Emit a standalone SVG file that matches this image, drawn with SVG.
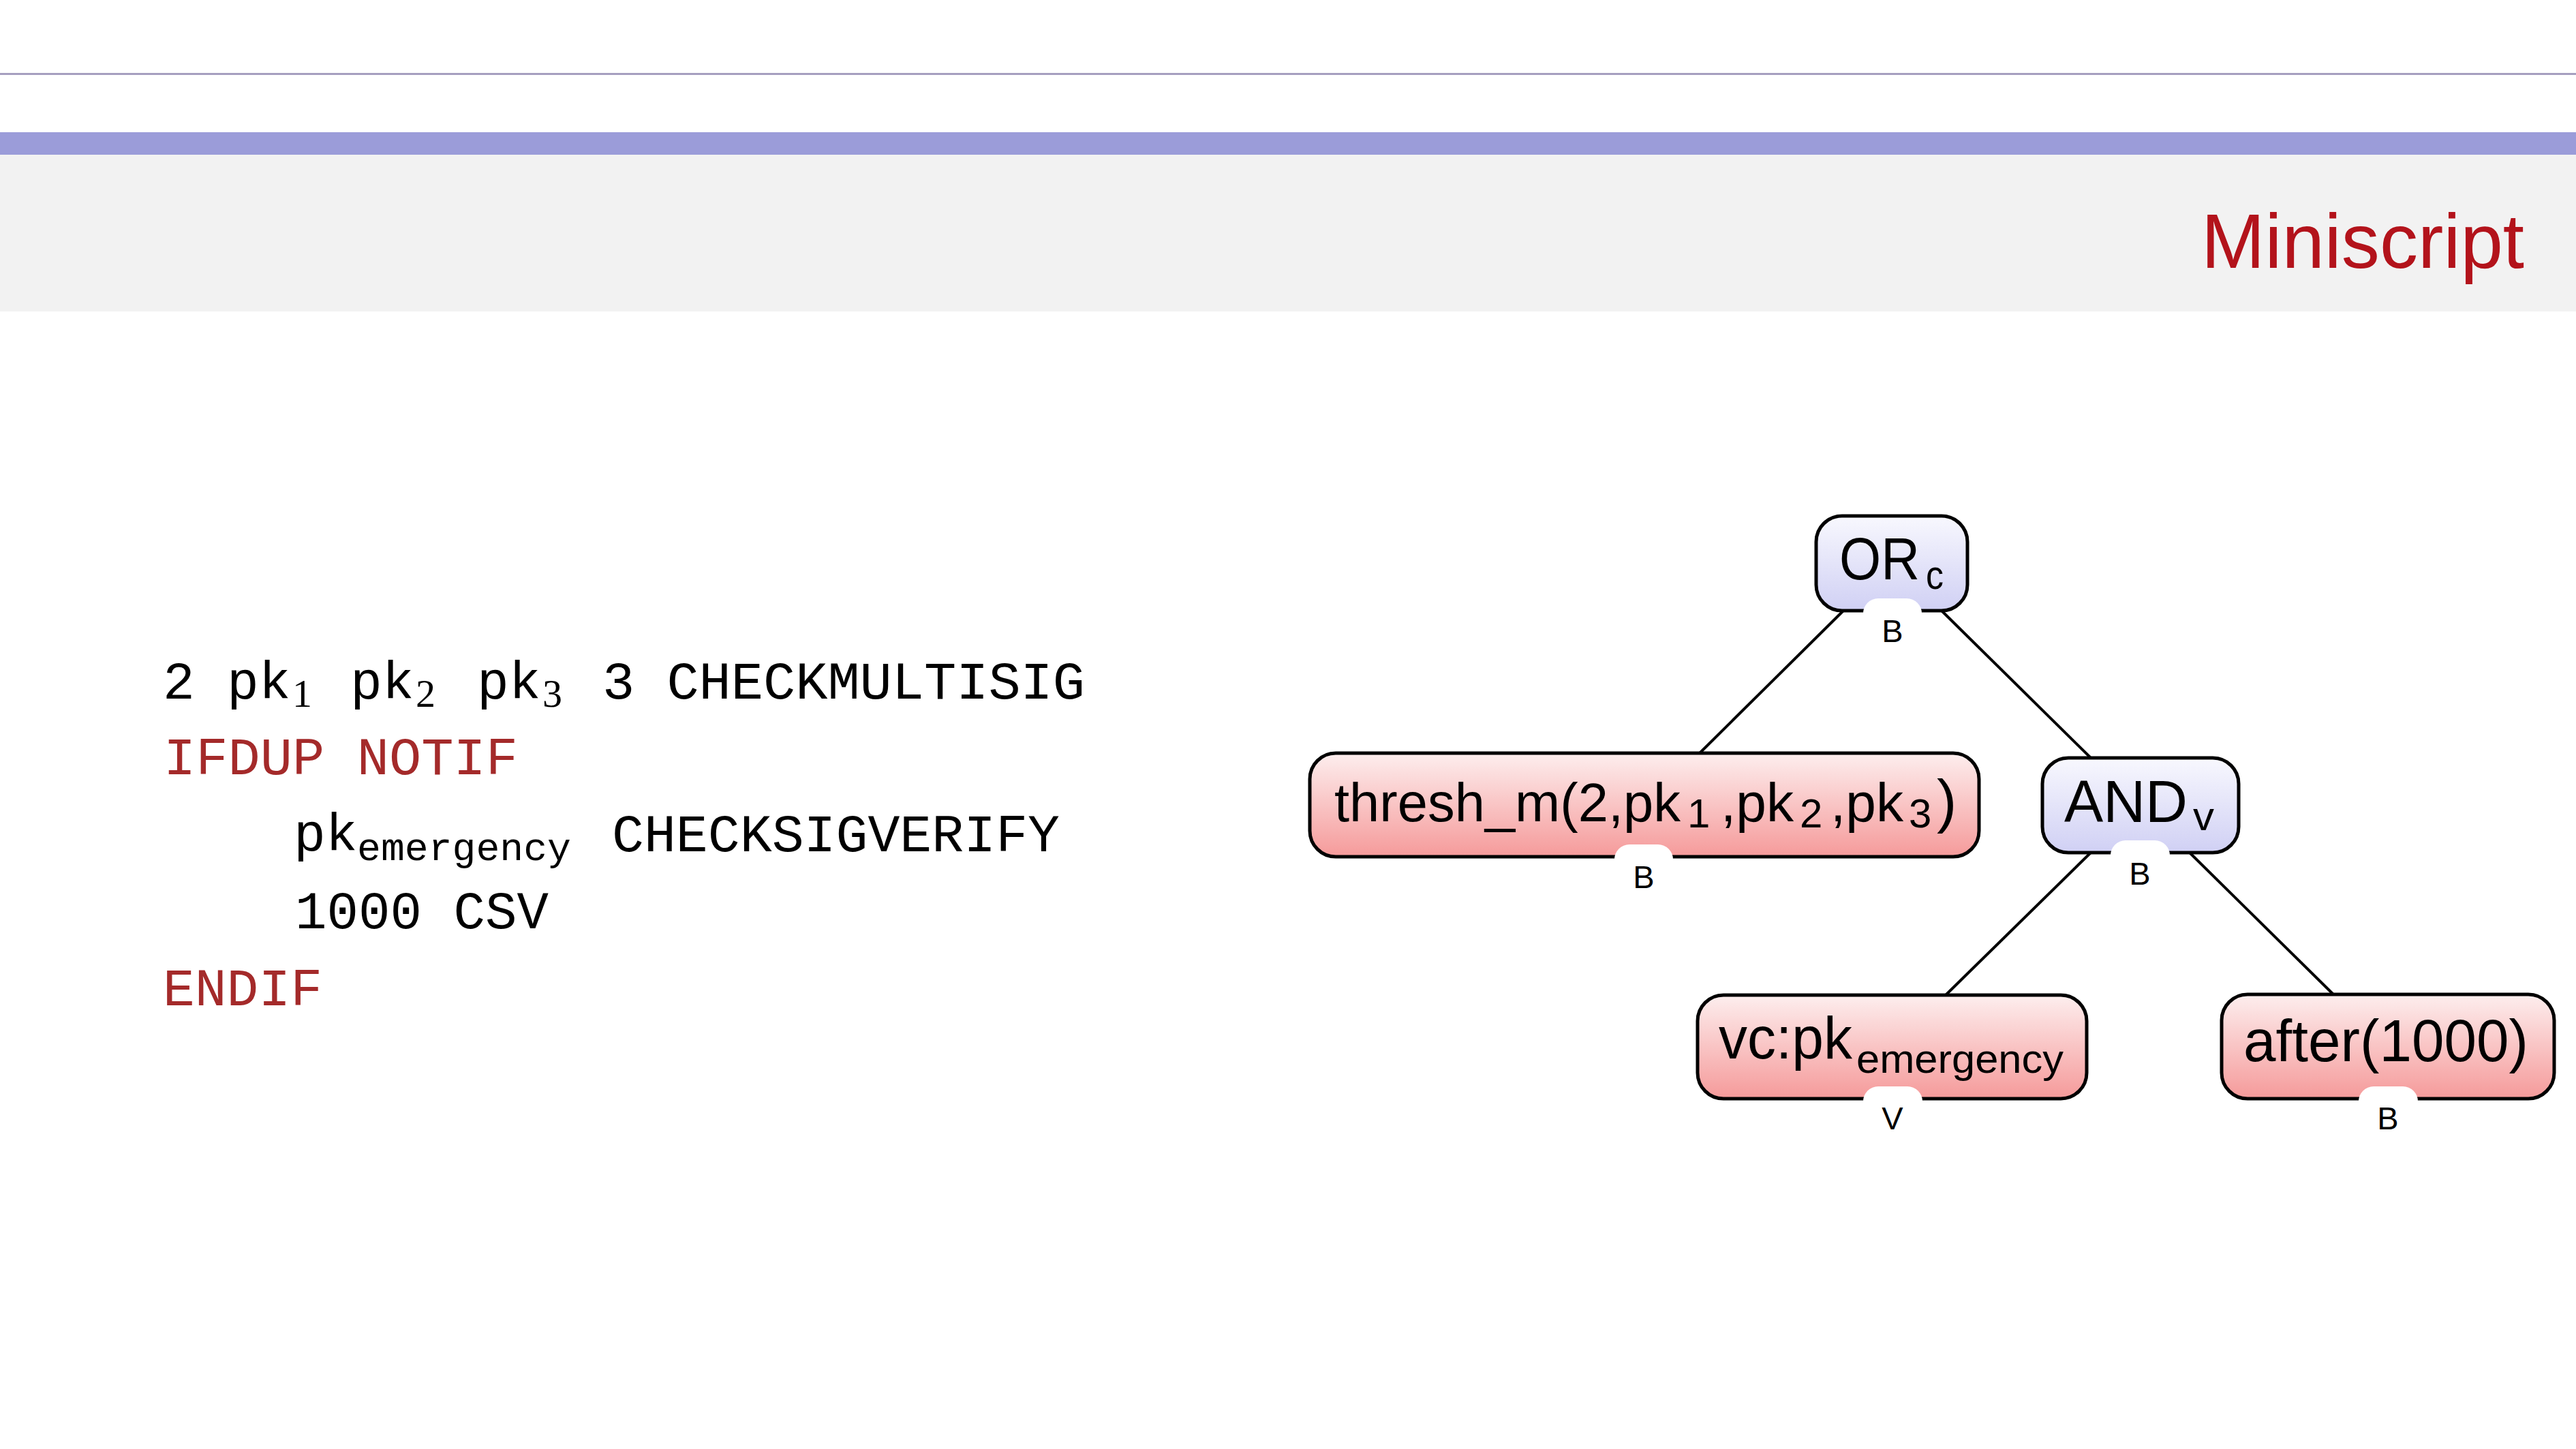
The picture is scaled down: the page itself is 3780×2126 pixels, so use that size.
<svg xmlns="http://www.w3.org/2000/svg" width="3780" height="2126" viewBox="0 0 3780 2126">
<defs>
<linearGradient id="gBlue" x1="0" y1="0" x2="0" y2="1">
<stop offset="0" stop-color="#f8f8fe"/>
<stop offset="1" stop-color="#d0d0f4"/>
</linearGradient>
<linearGradient id="gRed" x1="0" y1="0" x2="0" y2="1">
<stop offset="0" stop-color="#fdeeee"/>
<stop offset="1" stop-color="#f59a9a"/>
</linearGradient>
<style>
.node{stroke:#000;stroke-width:5}
.blue{fill:url(#gBlue)}
.red{fill:url(#gRed)}
.lbl{font-family:"Liberation Sans",Arial,sans-serif;font-size:88px;fill:#000}
.lbl80{font-family:"Liberation Sans",Arial,sans-serif;font-size:80px;fill:#000}
.sub{font-family:"Liberation Sans",Arial,sans-serif;font-size:60px;fill:#000}
.typ{font-family:"Liberation Sans",Arial,sans-serif;font-size:47px;fill:#000;text-anchor:middle}
.notch{fill:#fff}
.edge{stroke:#000;stroke-width:4;fill:none}
.code{font-family:"Liberation Mono","Courier New",monospace;font-size:78px;fill:#000}
.kw{fill:#a42a2a}
.csub{font-family:"Liberation Serif","Times New Roman",serif;font-size:58px;fill:#000}
.csubt{font-family:"Liberation Mono","Courier New",monospace;font-size:58px;fill:#000}
</style>
</defs>
<rect x="0" y="0" width="3780" height="2126" fill="#fff"/>
<g id="header">
<rect x="0" y="107" width="3780" height="3" fill="#a69fbf"/>
<rect x="0" y="194" width="3780" height="33" fill="#9b9cd9"/>
<rect x="0" y="227" width="3780" height="230" fill="#f2f2f2"/>
<text x="3230" y="393" font-family="'Liberation Sans',Arial,sans-serif" font-size="114" fill="#b3131b" textLength="474" lengthAdjust="spacingAndGlyphs">Miniscript</text>
</g>
<g id="script">
<text class="code" x="239" y="1025">2</text>
<text class="code" x="333" y="1025">pk</text>
<text class="csub" x="429" y="1037">1</text>
<text class="code" x="514" y="1025">pk</text>
<text class="csub" x="610" y="1037">2</text>
<text class="code" x="700" y="1025">pk</text>
<text class="csub" x="796" y="1037">3</text>
<text class="code" x="884" y="1025" textLength="708" lengthAdjust="spacingAndGlyphs">3 CHECKMULTISIG</text>
<text class="code kw" x="240" y="1136" textLength="520" lengthAdjust="spacingAndGlyphs">IFDUP NOTIF</text>
<text class="code" x="431" y="1248">pk</text>
<text class="csubt" x="524" y="1262" textLength="314" lengthAdjust="spacingAndGlyphs">emergency</text>
<text class="code" x="898" y="1249" textLength="657" lengthAdjust="spacingAndGlyphs">CHECKSIGVERIFY</text>
<text class="code" x="433" y="1362" textLength="372" lengthAdjust="spacingAndGlyphs">1000 CSV</text>
<text class="code kw" x="239" y="1475" textLength="234" lengthAdjust="spacingAndGlyphs">ENDIF</text>
</g>
<g id="connectors">
<line class="edge" x1="2705" y1="896" x2="2494" y2="1105"/>
<line class="edge" x1="2849" y1="896" x2="3068" y2="1112"/>
<line class="edge" x1="3068" y1="1251" x2="2855" y2="1460"/>
<line class="edge" x1="3213" y1="1251" x2="3424" y2="1459"/>
</g>
<g id="node-orc">
<rect class="node blue" x="2665" y="757" width="222" height="139" rx="38"/>
<text class="lbl" x="2699" y="850" textLength="118" lengthAdjust="spacingAndGlyphs">OR</text>
<text class="sub" x="2826" y="864" textLength="26" lengthAdjust="spacingAndGlyphs">c</text>
<rect class="notch" x="2734" y="878" width="86" height="70" rx="22"/>
<text class="typ" x="2777" y="942">B</text>
</g>
<g id="node-thresh">
<rect class="node red" x="1922" y="1105" width="982" height="152" rx="38"/>
<text class="lbl80" x="1958" y="1205" textLength="508" lengthAdjust="spacingAndGlyphs">thresh_m(2,pk</text>
<text class="sub" x="2476" y="1214">1</text>
<text class="lbl80" x="2525" y="1205" textLength="107" lengthAdjust="spacingAndGlyphs">,pk</text>
<text class="sub" x="2641" y="1214">2</text>
<text class="lbl80" x="2686" y="1205" textLength="107" lengthAdjust="spacingAndGlyphs">,pk</text>
<text class="sub" x="2801" y="1214">3</text>
<text class="lbl" x="2842" y="1205">)</text>
<rect class="notch" x="2369" y="1239" width="86" height="70" rx="22"/>
<text class="typ" x="2412" y="1303">B</text>
</g>
<g id="node-andv">
<rect class="node blue" x="2997" y="1112" width="288" height="139" rx="38"/>
<text class="lbl" x="3029" y="1206" textLength="181" lengthAdjust="spacingAndGlyphs">AND</text>
<text class="sub" x="3218" y="1218" textLength="31" lengthAdjust="spacingAndGlyphs">v</text>
<rect class="notch" x="3097" y="1233" width="87" height="70" rx="22"/>
<text class="typ" x="3140" y="1298">B</text>
</g>
<g id="node-vc">
<rect class="node red" x="2491" y="1460" width="571" height="152" rx="38"/>
<text class="lbl" x="2522" y="1553" textLength="196" lengthAdjust="spacingAndGlyphs">vc:pk</text>
<text class="sub" x="2724" y="1574" textLength="304" lengthAdjust="spacingAndGlyphs">emergency</text>
<rect class="notch" x="2734" y="1594" width="87" height="70" rx="22"/>
<text class="typ" x="2777" y="1657">V</text>
</g>
<g id="node-after">
<rect class="node red" x="3260" y="1459" width="488" height="153" rx="38"/>
<text class="lbl" x="3292" y="1557" textLength="418" lengthAdjust="spacingAndGlyphs">after(1000)</text>
<rect class="notch" x="3461" y="1594" width="87" height="70" rx="22"/>
<text class="typ" x="3504" y="1657">B</text>
</g>
</svg>
